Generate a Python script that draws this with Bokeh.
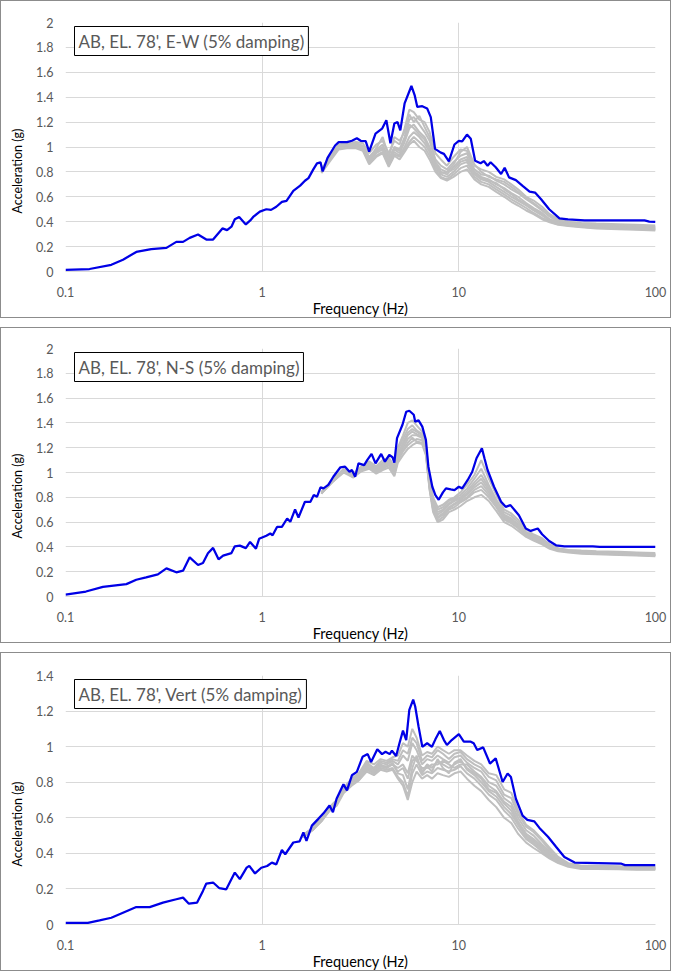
import math
from bokeh.plotting import figure
from bokeh.layouts import column
from bokeh.models import FixedTicker, Label, Title
from bokeh.embed import file_html
from bokeh.resources import INLINE

FONT = "Lato"

# ---------------- tick data ----------------
x_ticks = [0.1, 1, 10, 100]
x_tick_labels = ["0.1", "1", "10", "100"]
y_ticks_2 = [0, 0.2, 0.4, 0.6, 0.8, 1, 1.2, 1.4, 1.6, 1.8, 2]
y_tick_labels_2 = ["0", "0.2", "0.4", "0.6", "0.8", "1", "1.2", "1.4", "1.6", "1.8", "2"]
y_ticks_14 = [0, 0.2, 0.4, 0.6, 0.8, 1, 1.2, 1.4]
y_tick_labels_14 = ["0", "0.2", "0.4", "0.6", "0.8", "1", "1.2", "1.4"]

titles = ["AB, EL. 78', E-W (5% damping)",
          "AB, EL. 78', N-S (5% damping)",
          "AB, EL. 78', Vert (5% damping)"]

# ---------------- E-W ----------------
ew_freq = [0.1, 0.1325, 0.171, 0.196, 0.229, 0.273, 0.326, 0.366, 0.396, 0.428, 0.472, 0.52, 0.563, 0.628,
           0.663, 0.698, 0.726, 0.764, 0.826, 0.87, 0.9, 0.973, 1.05, 1.11, 1.18, 1.26, 1.33, 1.44, 1.56,
           1.65, 1.72, 1.82, 1.9, 1.98, 2.03, 2.15, 2.35, 2.45, 2.7, 2.86, 3.03, 3.17, 3.36, 3.5, 3.77,
           4.07, 4.28, 4.49, 4.7, 4.88, 5.04, 5.3, 5.74, 5.96, 6.15, 6.52, 6.9, 7.2, 7.57, 8.1, 8.4, 8.9,
           9.5, 10.0, 10.4, 11.0, 11.5, 12.1, 12.9, 13.4, 14.0, 14.5, 15.4, 16.4, 17.1, 18.0, 19.5, 21.1,
           22.9, 24.4, 26.2, 28.8, 32.5, 35.9, 43.6, 88.0, 93.0, 100.0]
ew_blue = [0.014, 0.02, 0.054, 0.095, 0.157, 0.18, 0.19, 0.238, 0.238, 0.27, 0.297, 0.257, 0.257, 0.346,
           0.332, 0.36, 0.419, 0.438, 0.378, 0.41, 0.438, 0.481, 0.5, 0.495, 0.52, 0.559, 0.568, 0.648, 0.69,
           0.729, 0.75, 0.82, 0.869, 0.877, 0.804, 0.912, 1.012, 1.039, 1.039, 1.05, 1.07, 1.05, 1.047, 0.963, 1.107,
           1.147, 1.215, 1.03, 1.188, 1.2, 1.134, 1.35, 1.49, 1.417, 1.322, 1.328, 1.31, 1.24, 0.985, 0.955, 0.945, 0.885,
           1.02, 1.05, 1.045, 1.1, 1.066, 0.89, 0.87, 0.887, 0.85, 0.877, 0.837, 0.783, 0.833, 0.756, 0.734, 0.688,
           0.642, 0.634, 0.58, 0.5, 0.427, 0.418, 0.41, 0.41, 0.4, 0.398]
ew_gfreq = [2.0, 2.2, 2.45, 2.7, 3.0, 3.25, 3.5, 3.8, 4.1, 4.4, 4.7, 5.0, 5.3, 5.6, 5.9, 6.3, 6.7, 7.1, 7.6, 8.1,
            8.7, 9.4, 10.2, 11.0, 12.0, 13.0, 14.2, 15.5, 17.0, 18.5, 20.0, 22.0, 24.0, 26.5, 29.0, 32.0, 36.0,
            42.0, 50.0, 65.0, 80.0, 100.0]
ew_g1 = [0.82, 0.92, 1.02, 1.03, 1.04, 1.03, 0.95, 1.02, 1.05, 0.95, 1.05, 1.02, 1.15, 1.30, 1.28, 1.22, 1.20, 1.12, 0.95, 0.90,
         0.85, 0.92, 0.98, 0.97, 0.85, 0.82, 0.80, 0.76, 0.74, 0.70, 0.66, 0.60, 0.57, 0.52, 0.46, 0.42, 0.40, 0.39, 0.385, 0.38, 0.375, 0.37]
ew_g2 = [0.81, 0.91, 1.01, 1.02, 1.03, 1.01, 0.92, 0.98, 1.02, 0.90, 1.00, 0.98, 1.08, 1.22, 1.24, 1.18, 1.12, 1.05, 0.90, 0.85,
         0.82, 0.88, 0.93, 0.95, 0.82, 0.78, 0.77, 0.73, 0.70, 0.66, 0.63, 0.58, 0.54, 0.49, 0.44, 0.40, 0.385, 0.375, 0.37, 0.365, 0.36, 0.355]
ew_g3 = [0.80, 0.90, 1.00, 1.01, 1.02, 1.00, 0.90, 0.96, 1.00, 0.88, 0.98, 0.95, 1.04, 1.15, 1.18, 1.12, 1.08, 1.00, 0.86, 0.80,
         0.78, 0.84, 0.90, 0.92, 0.80, 0.76, 0.74, 0.70, 0.67, 0.63, 0.60, 0.55, 0.51, 0.47, 0.42, 0.395, 0.38, 0.37, 0.36, 0.355, 0.35, 0.345]
ew_g4 = [0.81, 0.90, 1.00, 1.00, 1.01, 0.99, 0.88, 0.95, 0.98, 0.86, 0.96, 0.93, 1.00, 1.08, 1.12, 1.08, 1.03, 0.96, 0.84, 0.78,
         0.76, 0.80, 0.86, 0.88, 0.78, 0.74, 0.72, 0.68, 0.64, 0.60, 0.57, 0.53, 0.49, 0.45, 0.41, 0.385, 0.375, 0.365, 0.355, 0.35, 0.345, 0.34]
ew_g5 = [0.80, 0.89, 0.99, 1.00, 1.00, 0.98, 0.87, 0.93, 0.96, 0.85, 0.94, 0.92, 0.98, 1.04, 1.08, 1.04, 1.00, 0.93, 0.82, 0.76,
         0.74, 0.78, 0.83, 0.85, 0.76, 0.72, 0.70, 0.66, 0.62, 0.58, 0.55, 0.51, 0.47, 0.43, 0.40, 0.38, 0.37, 0.36, 0.35, 0.345, 0.34, 0.335]
ew_g6 = [0.79, 0.88, 0.98, 0.99, 0.99, 0.97, 0.86, 0.92, 0.95, 0.84, 0.93, 0.90, 0.96, 1.02, 1.05, 1.00, 0.97, 0.90, 0.80, 0.75,
         0.73, 0.76, 0.80, 0.82, 0.74, 0.70, 0.68, 0.64, 0.60, 0.56, 0.53, 0.49, 0.46, 0.42, 0.395, 0.375, 0.365, 0.355, 0.345, 0.34, 0.335, 0.33]
ew_g7 = [0.80, 0.90, 1.01, 1.02, 1.02, 1.00, 0.91, 0.99, 1.08, 0.92, 1.08, 1.05, 1.12, 1.26, 1.20, 1.25, 1.16, 1.08, 0.88, 0.82,
         0.80, 0.86, 0.96, 1.00, 0.86, 0.80, 0.76, 0.74, 0.72, 0.68, 0.64, 0.59, 0.55, 0.50, 0.45, 0.41, 0.39, 0.38, 0.375, 0.37, 0.365, 0.36]
ew_g8 = [0.81, 0.91, 1.01, 1.01, 1.02, 1.00, 0.90, 0.97, 1.00, 0.89, 0.99, 0.97, 1.06, 1.18, 1.15, 1.10, 1.06, 0.98, 0.85, 0.79,
         0.80, 0.82, 0.88, 0.90, 0.79, 0.75, 0.73, 0.71, 0.66, 0.62, 0.58, 0.54, 0.50, 0.46, 0.41, 0.39, 0.375, 0.365, 0.36, 0.355, 0.35, 0.345]

# ---------------- N-S ----------------
ns_freq = [0.1, 0.127, 0.155, 0.204, 0.229, 0.257, 0.295, 0.326, 0.366, 0.396, 0.428, 0.472, 0.5, 0.53, 0.563,
           0.6, 0.633, 0.698, 0.726, 0.77, 0.826, 0.868, 0.93, 0.965, 1.05, 1.1, 1.13, 1.19, 1.26, 1.34, 1.39,
           1.47, 1.53, 1.65, 1.76, 1.83, 1.9, 1.98, 2.05, 2.17, 2.3, 2.5, 2.64, 2.78, 2.86, 2.97, 3.09, 3.3,
           3.42, 3.6, 3.77, 4.03, 4.21, 4.43, 4.6, 4.7, 4.85, 5.17, 5.4, 5.6, 5.9, 6.0, 6.24, 6.52, 6.8, 7.0,
           7.33, 7.6, 7.9, 8.3, 8.6, 9.1, 9.5, 10.0, 10.4, 11.1, 11.7, 12.3, 13.1, 13.5, 14.0, 15.1, 16.4,
           17.3, 18.3, 20.2, 21.9, 23.2, 25.2, 26.5, 28.8, 31.2, 34.4, 48.0, 52.0, 100.0]
ns_blue = [0.016, 0.04, 0.078, 0.1, 0.135, 0.154, 0.178, 0.227, 0.195, 0.208, 0.316, 0.254, 0.27, 0.349, 0.392,
           0.3, 0.33, 0.35, 0.405, 0.41, 0.39, 0.44, 0.386, 0.465, 0.49, 0.508, 0.494, 0.561, 0.561, 0.629, 0.602,
           0.702, 0.637, 0.764, 0.764, 0.818, 0.804, 0.88, 0.872, 0.9, 0.966, 1.042, 1.047, 1.006, 1.02, 0.966, 1.074, 1.06,
           1.1, 1.15, 1.074, 1.15, 1.087, 1.142, 1.123, 1.08, 1.277, 1.385, 1.49, 1.498, 1.466, 1.41, 1.42, 1.37, 1.263, 1.047,
           0.885, 0.818, 0.78, 0.84, 0.872, 0.864, 0.858, 0.885, 0.872, 0.94, 1.006, 1.115, 1.196, 1.115, 1.02, 0.885, 0.764,
           0.723, 0.737, 0.656, 0.548, 0.529, 0.548, 0.502, 0.448, 0.413, 0.405, 0.405, 0.4, 0.4]
ns_gfreq = [2.0, 2.3, 2.6, 2.9, 3.2, 3.5, 3.8, 4.1, 4.4, 4.7, 4.9, 5.2, 5.5, 5.8, 6.1, 6.5, 6.8, 7.1, 7.4, 7.8, 8.3,
            8.9, 9.5, 10.2, 11.0, 12.0, 13.0, 14.2, 15.5, 17.0, 18.5, 20.0, 22.0, 24.0, 26.5, 29.0, 32.0, 36.0,
            42.0, 50.0, 65.0, 80.0, 100.0]
ns_g1 = [0.84, 0.95, 1.03, 0.99, 1.05, 1.09, 1.05, 1.10, 1.12, 1.05, 1.20, 1.30, 1.40, 1.42, 1.38, 1.33, 1.22, 0.95, 0.80, 0.72,
         0.74, 0.78, 0.80, 0.84, 0.90, 0.98, 1.10, 0.95, 0.82, 0.70, 0.67, 0.62, 0.54, 0.50, 0.47, 0.42, 0.39, 0.375, 0.37, 0.365, 0.36, 0.355, 0.35]
ns_g2 = [0.84, 0.94, 1.02, 0.98, 1.04, 1.07, 1.03, 1.07, 1.10, 1.02, 1.15, 1.24, 1.32, 1.35, 1.33, 1.30, 1.20, 0.92, 0.75, 0.68,
         0.70, 0.75, 0.78, 0.80, 0.85, 0.92, 0.98, 0.88, 0.76, 0.66, 0.63, 0.58, 0.51, 0.48, 0.45, 0.41, 0.38, 0.37, 0.36, 0.355, 0.35, 0.345, 0.34]
ns_g3 = [0.83, 0.94, 1.02, 0.97, 1.03, 1.05, 1.01, 1.05, 1.08, 1.00, 1.12, 1.20, 1.27, 1.30, 1.30, 1.28, 1.18, 0.90, 0.72, 0.64,
         0.67, 0.72, 0.75, 0.78, 0.82, 0.88, 0.92, 0.84, 0.74, 0.64, 0.61, 0.56, 0.50, 0.47, 0.44, 0.40, 0.375, 0.365, 0.355, 0.35, 0.345, 0.34, 0.335]
ns_g4 = [0.84, 0.93, 1.01, 0.96, 1.02, 1.04, 1.00, 1.03, 1.06, 0.98, 1.10, 1.17, 1.22, 1.25, 1.27, 1.26, 1.16, 0.88, 0.70, 0.61,
         0.64, 0.70, 0.72, 0.76, 0.79, 0.84, 0.86, 0.80, 0.72, 0.62, 0.59, 0.55, 0.49, 0.46, 0.43, 0.39, 0.37, 0.36, 0.35, 0.345, 0.34, 0.335, 0.33]
ns_g5 = [0.83, 0.93, 1.00, 0.96, 1.01, 1.03, 0.99, 1.02, 1.04, 0.97, 1.08, 1.14, 1.19, 1.22, 1.24, 1.23, 1.14, 0.86, 0.68, 0.60,
         0.62, 0.68, 0.70, 0.73, 0.77, 0.80, 0.82, 0.77, 0.69, 0.60, 0.57, 0.53, 0.48, 0.45, 0.42, 0.385, 0.365, 0.355, 0.345, 0.34, 0.335, 0.33, 0.325]
ns_g6 = [0.84, 0.94, 1.02, 0.98, 1.04, 1.08, 1.04, 1.08, 1.11, 1.04, 1.18, 1.27, 1.35, 1.38, 1.34, 1.31, 1.19, 0.93, 0.77, 0.70,
         0.72, 0.77, 0.79, 0.82, 0.87, 0.95, 1.03, 0.90, 0.78, 0.68, 0.65, 0.60, 0.52, 0.49, 0.46, 0.415, 0.385, 0.37, 0.365, 0.36, 0.355, 0.35, 0.345]
ns_g7 = [0.83, 0.93, 1.01, 0.97, 1.02, 1.04, 1.00, 1.04, 1.07, 0.99, 1.11, 1.18, 1.24, 1.28, 1.25, 1.24, 1.15, 0.87, 0.71, 0.63,
         0.66, 0.71, 0.74, 0.77, 0.80, 0.86, 0.89, 0.82, 0.73, 0.63, 0.60, 0.56, 0.50, 0.46, 0.43, 0.395, 0.37, 0.36, 0.35, 0.345, 0.34, 0.335, 0.33]
ns_g8 = [0.84, 0.94, 1.02, 0.97, 1.03, 1.06, 1.02, 1.06, 1.09, 1.01, 1.14, 1.22, 1.30, 1.33, 1.31, 1.29, 1.17, 0.89, 0.73, 0.66,
         0.69, 0.74, 0.77, 0.79, 0.83, 0.90, 0.95, 0.86, 0.75, 0.65, 0.62, 0.57, 0.51, 0.47, 0.44, 0.40, 0.38, 0.365, 0.36, 0.35, 0.345, 0.34, 0.335]

# ---------------- Vert ----------------
vt_freq = [0.1, 0.13, 0.149, 0.171, 0.196, 0.229, 0.268, 0.313, 0.366, 0.396, 0.424, 0.467, 0.5, 0.52, 0.563,
           0.606, 0.657, 0.726, 0.77, 0.834, 0.86, 0.92, 0.99, 1.06, 1.12, 1.18, 1.26, 1.31, 1.44, 1.55, 1.62,
           1.68, 1.79, 1.93, 2.05, 2.2, 2.29, 2.39, 2.59, 2.7, 2.86, 3.03, 3.24, 3.44, 3.58, 3.85, 4.07, 4.24,
           4.45, 4.57, 4.8, 4.99, 5.2, 5.4, 5.6, 5.86, 6.0, 6.24, 6.52, 6.9, 7.3, 7.6, 8.0, 8.4, 8.7, 9.2, 10.0,
           10.6, 11.5, 11.9, 12.4, 13.3, 14.4, 15.4, 16.7, 17.7, 18.4, 19.5, 21.1, 22.3, 24.2, 25.7, 28.4, 31.2,
           34.4, 38.8, 67.1, 70.0, 100.0]
vt_blue = [0.009, 0.009, 0.023, 0.038, 0.066, 0.098, 0.098, 0.123, 0.142, 0.151, 0.117, 0.123, 0.189, 0.23, 0.236,
           0.204, 0.198, 0.292, 0.255, 0.32, 0.33, 0.287, 0.319, 0.329, 0.348, 0.338, 0.419, 0.395, 0.461, 0.467, 0.518,
           0.47, 0.556, 0.594, 0.625, 0.669, 0.631, 0.707, 0.788, 0.754, 0.839, 0.858, 0.943, 0.958, 0.914, 0.985, 0.958, 0.971,
           0.958, 0.977, 0.947, 1.019, 1.09, 1.037, 1.207, 1.264, 1.226, 1.113, 0.999, 1.019, 0.999, 1.041, 1.088, 1.037, 1.009, 1.037, 1.07,
           1.028, 1.028, 1.019, 0.981, 0.996, 0.905, 0.934, 0.801, 0.849, 0.829, 0.707, 0.612, 0.588, 0.58, 0.543, 0.493, 0.437,
           0.38, 0.348, 0.342, 0.334, 0.334]
vt_gfreq = [1.6, 1.8, 2.0, 2.2, 2.4, 2.6, 2.85, 3.1, 3.4, 3.7, 4.0, 4.3, 4.6, 4.9, 5.2, 5.5, 5.8, 6.1, 6.5, 6.9, 7.3,
            7.8, 8.3, 8.9, 9.5, 10.2, 11.0, 12.0, 13.0, 14.2, 15.5, 17.0, 18.5, 20.0, 22.0, 24.0, 26.5, 29.0, 32.0,
            36.0, 42.0, 50.0, 65.0, 80.0, 100.0]
vt_g1 = [0.50, 0.54, 0.60, 0.66, 0.70, 0.77, 0.82, 0.85, 0.92, 0.90, 0.93, 0.92, 0.94, 0.95, 1.02, 1.00, 1.10, 1.05, 0.95, 0.97,
         0.96, 1.00, 0.98, 0.96, 0.98, 0.98, 0.95, 0.92, 0.90, 0.85, 0.84, 0.76, 0.74, 0.64, 0.56, 0.53, 0.48, 0.43, 0.38, 0.345,
         0.33, 0.33, 0.328, 0.325, 0.325]
vt_g2 = [0.50, 0.54, 0.59, 0.65, 0.69, 0.76, 0.80, 0.83, 0.90, 0.87, 0.91, 0.90, 0.92, 0.90, 0.95, 0.92, 1.02, 0.98, 0.90, 0.93,
         0.92, 0.95, 0.93, 0.91, 0.94, 0.95, 0.91, 0.88, 0.86, 0.80, 0.78, 0.71, 0.68, 0.60, 0.53, 0.50, 0.45, 0.41, 0.365, 0.34,
         0.325, 0.325, 0.322, 0.32, 0.32]
vt_g3 = [0.49, 0.53, 0.58, 0.64, 0.68, 0.75, 0.79, 0.82, 0.88, 0.86, 0.89, 0.88, 0.90, 0.86, 0.88, 0.82, 0.92, 0.94, 0.86, 0.90,
         0.88, 0.92, 0.90, 0.88, 0.90, 0.92, 0.88, 0.85, 0.82, 0.76, 0.74, 0.68, 0.64, 0.57, 0.50, 0.47, 0.43, 0.39, 0.355, 0.335,
         0.32, 0.32, 0.318, 0.315, 0.315]
vt_g4 = [0.50, 0.53, 0.59, 0.65, 0.68, 0.75, 0.79, 0.81, 0.87, 0.85, 0.88, 0.87, 0.88, 0.83, 0.80, 0.72, 0.85, 0.90, 0.84, 0.86,
         0.85, 0.88, 0.87, 0.86, 0.87, 0.89, 0.85, 0.82, 0.78, 0.73, 0.70, 0.64, 0.60, 0.54, 0.48, 0.45, 0.41, 0.38, 0.35, 0.33,
         0.315, 0.315, 0.312, 0.31, 0.31]
vt_g5 = [0.49, 0.53, 0.58, 0.64, 0.67, 0.74, 0.78, 0.81, 0.86, 0.84, 0.87, 0.86, 0.87, 0.82, 0.78, 0.70, 0.80, 0.86, 0.82, 0.84,
         0.82, 0.85, 0.84, 0.83, 0.85, 0.86, 0.82, 0.78, 0.75, 0.70, 0.66, 0.60, 0.57, 0.51, 0.46, 0.43, 0.40, 0.37, 0.345, 0.325,
         0.312, 0.312, 0.31, 0.308, 0.308]
vt_g6 = [0.50, 0.54, 0.60, 0.66, 0.70, 0.76, 0.81, 0.84, 0.91, 0.88, 0.92, 0.91, 0.93, 0.92, 0.98, 0.96, 1.05, 1.02, 0.92, 0.95,
         0.94, 0.98, 0.96, 0.93, 0.96, 0.97, 0.93, 0.90, 0.88, 0.83, 0.81, 0.73, 0.71, 0.62, 0.55, 0.52, 0.47, 0.42, 0.37, 0.34,
         0.328, 0.328, 0.325, 0.322, 0.322]
vt_g7 = [0.49, 0.53, 0.59, 0.64, 0.68, 0.75, 0.79, 0.82, 0.88, 0.85, 0.89, 0.89, 0.90, 0.88, 0.90, 0.85, 0.95, 0.92, 0.88, 0.88,
         0.90, 0.90, 0.92, 0.90, 0.88, 0.90, 0.90, 0.86, 0.83, 0.78, 0.75, 0.69, 0.66, 0.58, 0.51, 0.48, 0.44, 0.40, 0.36, 0.335,
         0.32, 0.32, 0.318, 0.316, 0.316]
vt_g8 = [0.50, 0.54, 0.59, 0.65, 0.69, 0.76, 0.80, 0.83, 0.89, 0.86, 0.90, 0.88, 0.91, 0.85, 0.84, 0.76, 0.88, 0.95, 0.85, 0.89,
         0.86, 0.93, 0.88, 0.85, 0.91, 0.93, 0.87, 0.84, 0.80, 0.75, 0.72, 0.66, 0.62, 0.56, 0.49, 0.46, 0.42, 0.385, 0.352, 0.33,
         0.318, 0.318, 0.315, 0.312, 0.312]

BLUE = "#0000e6"
GRAY = "#bfbfbf"
GRID = "#d9d9d9"
TICK_TXT = "#595959"


def make_panel(title, fb, vb, fg, grays, ymax, yt, ytl, h, top, bottom):
    p = figure(width=671, height=h, x_axis_type="log", x_range=(0.1, 100), y_range=(0, ymax),
               output_backend="svg", toolbar_location=None,
               min_border_left=64, min_border_right=17, min_border_top=top, min_border_bottom=bottom,
               background_fill_color="white", border_fill_color="white", outline_line_color=None)
    p.styles = {"border": "1px solid #8c8c8c"}
    for g in grays:
        p.line(fg, g, line_color=GRAY, line_width=2)
    p.line(fb, vb, line_color=BLUE, line_width=2.25)

    xt = FixedTicker(ticks=x_ticks, minor_ticks=[])
    p.xaxis.ticker = xt
    p.xgrid.ticker = xt
    p.xaxis.major_label_overrides = dict(zip(x_ticks, x_tick_labels))
    ytk = FixedTicker(ticks=yt, minor_ticks=[])
    p.yaxis.ticker = ytk
    p.ygrid.ticker = ytk
    p.yaxis.major_label_overrides = dict(zip(yt, ytl))

    for ax in (p.xaxis, p.yaxis):
        ax.major_tick_line_color = None
        ax.minor_tick_line_color = None
        ax.major_tick_in = 0
        ax.major_tick_out = 0
        ax.minor_tick_out = 0
        ax.major_label_text_font = FONT
        ax.major_label_text_font_size = "12.5px"
        ax.major_label_text_color = TICK_TXT
    p.xaxis.axis_line_color = GRID
    p.yaxis.axis_line_color = None
    p.xaxis.major_label_standoff = 15
    p.yaxis.major_label_standoff = 12
    p.xaxis.axis_label = "Frequency (Hz)"
    p.xaxis.axis_label_text_font = FONT
    p.xaxis.axis_label_text_font_size = "14.5px"
    p.xaxis.axis_label_text_font_style = "normal"
    p.xaxis.axis_label_text_color = "#000000"
    p.xaxis.axis_label_standoff = 0

    p.xgrid.grid_line_color = GRID
    p.ygrid.grid_line_color = GRID

    # y-axis title: starts 58 px above the bottom of the plot area (as in the original)
    p.add_layout(Title(text="Acceleration (g)", align="left", offset=58, vertical_align="middle",
                       standoff=15, text_font=FONT, text_font_size="12.5px", text_font_style="normal",
                       text_color="#000000"), "left")
    p.add_layout(Label(x=0.1, y=ymax, x_offset=9, y_offset=-4, text=title,
                       text_align="left", text_baseline="top", text_font=FONT,
                       text_font_size="17px", text_color=TICK_TXT,
                       border_line_color="black", border_line_width=1,
                       background_fill_color="white", padding=4))
    return p


p1 = make_panel(titles[0], ew_freq, ew_blue, ew_gfreq,
                [ew_g1, ew_g2, ew_g3, ew_g4, ew_g5, ew_g6, ew_g7, ew_g8],
                2, y_ticks_2, y_tick_labels_2, 318, 21, 48)
p2 = make_panel(titles[1], ns_freq, ns_blue, ns_gfreq,
                [ns_g1, ns_g2, ns_g3, ns_g4, ns_g5, ns_g6, ns_g7, ns_g8],
                2, y_ticks_2, y_tick_labels_2, 316, 20, 47)
p3 = make_panel(titles[2], vt_freq, vt_blue, vt_gfreq,
                [vt_g1, vt_g2, vt_g3, vt_g4, vt_g5, vt_g6, vt_g7, vt_g8],
                1.4, y_ticks_14, y_tick_labels_14, 319, 22, 48)

layout = column(p1, p2, p3, spacing=9)
open("out.html", "w").write(file_html(layout, INLINE))
